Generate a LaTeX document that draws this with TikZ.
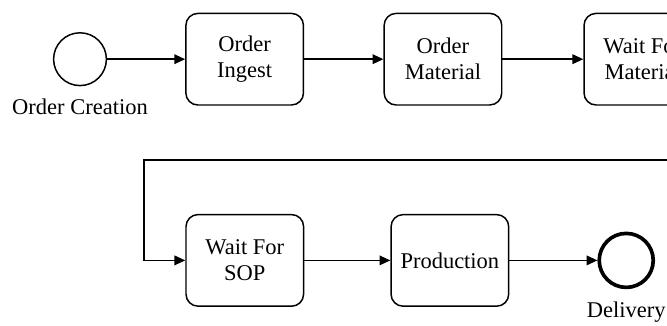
\documentclass[tikz,border=0pt]{standalone}
\usepackage{fontspec}
\setmainfont{Liberation Serif}
\usetikzlibrary{positioning,arrows.meta}

\begin{document}
\begin{tikzpicture}[
        font=\fontsize{16}{18.5}\selectfont,
        task/.style={draw,line width=1.05pt,rounded corners=0.3cm,align=center,
            minimum width=2.94cm,minimum height=2.29cm,inner sep=0pt},
        event/.style={draw,circle,line width=1.05pt,minimum size=1.32cm,inner sep=0pt},
        endevent/.style={event,line width=2.6pt,minimum size=1.35cm},
        flow/.style={-{Triangle[length=0.27cm,width=0.24cm]},line width=1.05pt}
    ]
            \clip (0,0) rectangle (16.675,8.15);

            % First row
            \node[event] (start) at (2.0,6.67) {};
            \node[below=0.3cm of start,inner sep=0pt] (startlbl) {Order Creation};
            \node[task,right=1.95cm of start] (ingest) {Order\\Ingest};
            \node[task,right=1.98cm of ingest] (material) {Order\\Material};
            \node[task,right=2.02cm of material] (waitmat) {Wait For\\Material};

            % Second row
            \node[task] (waitsop) at (6.12,1.64) {Wait For\\SOP};
            \node[task,right=2.15cm of waitsop] (production) {Production};
            \node[endevent,right=2.2cm of production] (delivery) {};
            \node[below=0.3cm of delivery,inner sep=0pt] (deliverylbl) {Delivery};

            % Flows
            \draw[flow] (start) -- (ingest);
            \draw[flow] (ingest) -- (material);
            \draw[flow] (material) -- (waitmat);
            \coordinate (loop) at (3.6,4.15);
            \draw[flow] (waitmat.east) -- ++(0.4,0) |- (loop) |- (waitsop.west);
            \draw[flow] (waitsop) -- (production);
            \draw[flow] (production) -- (delivery);
        \end{tikzpicture}
\end{document}
